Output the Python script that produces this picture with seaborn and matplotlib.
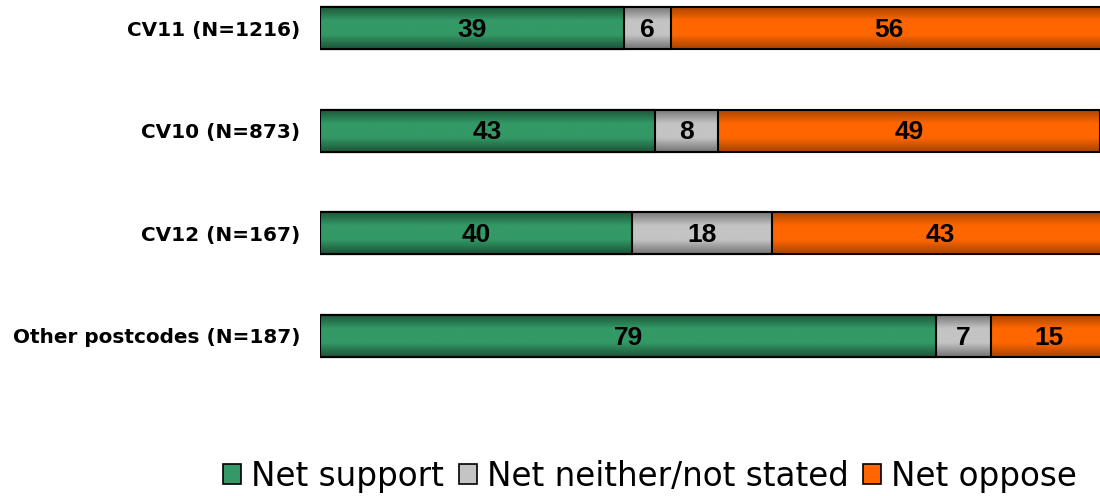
import numpy as np
import pandas as pd
import matplotlib
matplotlib.use("Agg")
import matplotlib.pyplot as plt
import seaborn as sns
from matplotlib import font_manager
from matplotlib.colors import LinearSegmentedColormap
from matplotlib.patches import Patch

categories = ["CV11 (N=1216)", "CV10 (N=873)", "CV12 (N=167)", "Other postcodes (N=187)"]
support = [39, 43, 40, 79]
neither = [6, 8, 18, 7]
oppose = [56, 49, 43, 15]
series_names = ["Net support", "Net neither/not stated", "Net oppose"]

sns.set_theme(style="white")
plt.rcParams['font.family'] = ['DejaVu Sans']


def find_font(name, bold):
    for f in font_manager.fontManager.ttflist:
        if f.name == name and ("Narrow" not in f.fname) and ((f.weight in (700, "bold")) == bold) and f.style == "normal":
            return font_manager.FontProperties(fname=f.fname)
    return None


num_fp = find_font("Liberation Sans", True)
if num_fp is None:
    num_fp = font_manager.FontProperties(family="DejaVu Sans", weight="bold")
num_fp.set_size(19)

df = pd.DataFrame({"cat": categories, "support": support, "neither": neither, "oppose": oppose})
df["cum_sn"] = df["support"] + df["neither"]
df["total"] = df["cum_sn"] + df["oppose"]

fig = plt.figure(figsize=(11, 4.96), dpi=100)
ax = fig.add_axes([320/1100, 1 - 364/496, 1 - 320/1100, 364/496])

layers = [
    ("total", "#ff6600", "#a84300"),
    ("cum_sn", "#c4c4c4", "#747474"),
    ("support", "#339966", "#1c5437"),
]
bar_h = 0.41
for i, (col, cmid, cedge) in enumerate(layers):
    n_before = len(ax.patches)
    sns.barplot(data=df, x=col, y="cat", orient="h", ax=ax, width=bar_h,
                color=cmid, edgecolor="black", linewidth=1.5, fill=False)
    cmap = LinearSegmentedColormap.from_list("g", [cedge, cmid, cmid, cedge])
    grad = np.linspace(0, 1, 64).reshape(-1, 1)
    for p in ax.patches[n_before:]:
        p.set_zorder(2 * i + 1.5)
        x0, y0 = p.get_x(), p.get_y()
        w, h = p.get_width(), p.get_height()
        im = ax.imshow(grad, cmap=cmap, aspect="auto", extent=[x0, x0 + w, y0 + h, y0],
                       zorder=2 * i + 1, interpolation="bicubic")
        im.set_clip_path(p)

ax.set_xlim(0, 100)
ax.set_ylim(3.273, -0.273)
ax.set_xlabel("")
ax.set_ylabel("")
ax.set_xticks([])
ax.tick_params(axis="y", length=0, pad=14)
for lab in ax.get_yticklabels():
    lab.set_fontweight("bold")
    lab.set_fontsize(14.45)
    lab.set_color("black")
for s in ax.spines.values():
    s.set_visible(False)

for j in range(len(categories)):
    s, n, o = support[j], neither[j], oppose[j]
    for val, center in [(s, s / 2), (n, s + n / 2), (o, s + n + o / 2)]:
        ax.text(center, j + 0.015, str(val), ha="center", va="center", fontproperties=num_fp,
                color="black", zorder=10)

handles = [Patch(facecolor=c, edgecolor="black", linewidth=1.2) for c in ["#339966", "#c4c4c4", "#ff6600"]]
leg = fig.legend(handles, series_names, loc="center", bbox_to_anchor=(0.591, 0.040), ncol=3,
                 frameon=False, fontsize=23.5, handlelength=0.55, handleheight=0.55,
                 handletextpad=0.3, columnspacing=0.45, borderaxespad=0)
for t in leg.get_texts():
    t.set_color("black")

fig.savefig("out.png", dpi=100)
